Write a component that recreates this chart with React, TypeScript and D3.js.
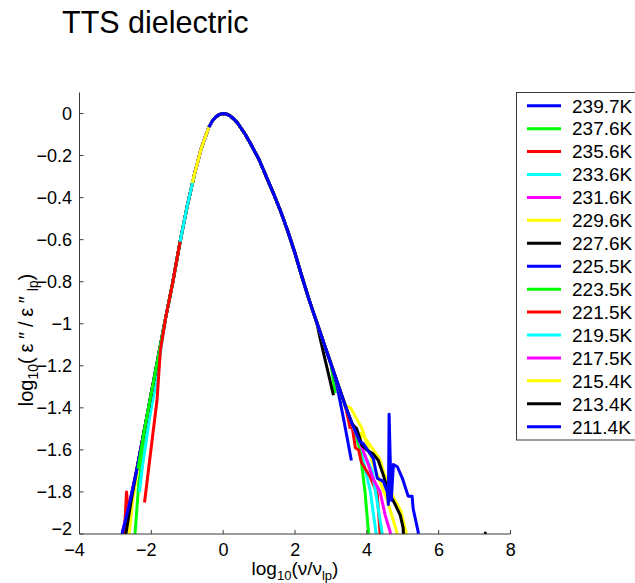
import React from "react";
import * as d3 from "d3";

// ---------------- data ----------------
const temperatures = [
  "239.7K", "237.6K", "235.6K", "233.6K", "231.6K", "229.6K", "227.6K",
  "225.5K", "223.5K", "221.5K", "219.5K", "217.5K", "215.4K", "213.4K", "211.4K",
];

const lineColors = [
  "#0000ff", "#00ff00", "#ff0000", "#00ffff", "#ff00ff", "#ffff00", "#000000",
  "#0000ff", "#00ff00", "#ff0000", "#00ffff", "#ff00ff", "#ffff00", "#000000", "#0000ff",
];

// collapsed master curve shared by all temperatures
const masterX = [
  -3.2, -3.0, -2.8, -2.6, -2.4, -2.2, -2.0, -1.8, -1.6, -1.4, -1.2, -1.0, -0.8, -0.6,
  -0.4, -0.3, -0.2, -0.1, 0, 0.1, 0.2, 0.3, 0.4, 0.6, 0.8, 1.0, 1.2, 1.4, 1.6, 1.8,
  2.0, 2.2, 2.4, 2.6, 2.8, 3.0, 3.2, 3.4, 3.6, 3.8,
];
const masterY = [
  -2.3, -2.15, -1.99, -1.85, -1.69, -1.51, -1.33, -1.15, -0.97, -0.8, -0.61, -0.44, -0.29, -0.16,
  -0.065, -0.035, -0.015, -0.004, 0, -0.003, -0.012, -0.026, -0.045, -0.095, -0.155, -0.22, -0.3, -0.38, -0.465, -0.56,
  -0.665, -0.78, -0.89, -0.99, -1.09, -1.19, -1.29, -1.39, -1.48, -1.56,
];

// portion of the master curve covered by each temperature
const masterFrom = [-3.2, -2.0, -2.6, -1.6, -2.8, -2.2, -2.4, -3.0, -2.2, -1.6, -1.2, -0.8, -0.8, -0.3, -0.4];
const masterTo = [2.4, 3.0, 3.4, 3.6, 3.4, 3.4, 2.6, 3.0, 3.6, 3.4, 3.8, 3.8, 3.8, 3.6, 3.8];

// low-frequency ends that leave the master curve
const headPoints: number[][][] = [
  [],
  [[-2.55, -2.2], [-2.45, -1.99], [-2.35, -1.76], [-2.2, -1.57]],
  [[-2.8, -2.15], [-2.69, -1.8], [-2.64, -1.9]],
  [[-2.33, -1.8], [-2.24, -1.67], [-2.05, -1.45], [-1.85, -1.26], [-1.7, -1.08]],
  [],
  [[-2.7, -2.15], [-2.62, -2.0], [-2.5, -1.82], [-2.4, -1.71]],
  [[-2.8, -2.15], [-2.7, -1.99], [-2.55, -1.83]],
  [],
  [[-2.37, -1.69]],
  [[-2.19, -1.85], [-1.84, -1.36], [-1.75, -1.13]],
  [],
  [],
  [[-0.86, -0.33]],
  [],
  [],
];

// high-frequency ends that leave the master curve
const tailPoints: number[][][] = [
  [],
  [[3.12, -1.33]],
  [[3.54, -1.5]],
  [[3.9, -1.65], [4.1, -1.8], [4.3, -2.05]],
  [],
  [[3.55, -1.4], [3.87, -1.5], [4.18, -1.67], [4.57, -1.84], [4.85, -2.0], [4.9, -2.1]],
  [[2.7, -1.07], [3.07, -1.34]],
  [[3.15, -1.28], [3.35, -1.45], [3.57, -1.65]],
  [[3.66, -1.5], [3.8, -1.59], [3.95, -1.8], [4.05, -2.0], [4.1, -2.1]],
  [[3.6, -1.5], [3.68, -1.59], [3.77, -1.6], [3.85, -1.66], [4.1, -1.73], [4.29, -1.81], [4.37, -2.0], [4.4, -2.1]],
  [[3.9, -1.61], [4.15, -1.7], [4.43, -2.0], [4.47, -2.1]],
  [[4.0, -1.65], [4.18, -1.74], [4.37, -1.8], [4.51, -1.91], [4.65, -1.99], [4.7, -2.1]],
  [[3.85, -1.52], [4.1, -1.58], [4.35, -1.64], [4.5, -1.72], [4.75, -1.83], [4.95, -1.89], [5.1, -2.0], [5.15, -2.1]],
  [[3.72, -1.5], [3.87, -1.58], [4.0, -1.6], [4.18, -1.62], [4.32, -1.65], [4.46, -1.72], [4.6, -1.8], [4.79, -1.86],
   [4.93, -1.91], [5.01, -1.97], [5.05, -2.1], [6.0, -2.5], [7.25, -2.3], [7.3, -1.995], [7.35, -2.3]],
  [[3.9, -1.57], [4.18, -1.64], [4.29, -1.735], [4.46, -1.75], [4.57, -1.8], [4.6, -1.86], [4.62, -1.43], [4.68, -1.84],
   [4.74, -1.67], [4.85, -1.68], [4.99, -1.735], [5.15, -1.82], [5.26, -1.82], [5.29, -1.88], [5.43, -1.99], [5.46, -2.1]],
];

const xTicks = [-4, -2, 0, 2, 4, 6, 8];
const yTicks = [0, -0.2, -0.4, -0.6, -0.8, -1, -1.2, -1.4, -1.6, -1.8, -2];

// ---------------- layout ----------------
const FONT = "'Liberation Sans', Arial, Helvetica, sans-serif";
const AXIS = "#3a3a3a";

const x = d3.scaleLinear().domain([-4, 8]).range([79.5, 510.5]);
const y = d3.scaleLinear().domain([-2, 0.1]).range([534, 92.5]);

const fmt = (v: number) => (v < 0 ? "\u2212" + String(Math.abs(v)) : String(v));

function seriesPoints(i: number): [number, number][] {
  const pts: [number, number][] = [];
  headPoints[i].forEach((p) => pts.push([p[0], p[1]]));
  masterX.forEach((mx, k) => {
    if (mx >= masterFrom[i] - 1e-9 && mx <= masterTo[i] + 1e-9) pts.push([mx, masterY[k]]);
  });
  tailPoints[i].forEach((p) => pts.push([p[0], p[1]]));
  return pts;
}

const line = d3
  .line<[number, number]>()
  .x((d) => x(d[0]))
  .y((d) => y(d[1]))
  .curve(d3.curveLinear);

export default function App() {
  const [x0, x1] = x.range();
  const [yb, yt] = y.range();
  const legendTop = 105.7;
  const legendStep = 22.93;
  return (
    <svg
      width={635}
      height={583}
      viewBox="0 0 635 583"
      style={{ position: "absolute", left: 0, top: 0, background: "#fff", fontFamily: FONT }}
    >
      <rect x={0} y={0} width={635} height={583} fill="#fff" />
      <defs>
        <clipPath id="plotClip">
          <rect x={x0} y={yt} width={x1 - x0} height={yb - yt} />
        </clipPath>
      </defs>

      {/* title */}
      <text x={62} y={33} fontSize={30.5} fill="#000">
        TTS dielectric
      </text>

      {/* data */}
      <g clipPath="url(#plotClip)">
        {temperatures.map((t, i) => (
          <path
            key={t}
            d={line(seriesPoints(i)) || ""}
            fill="none"
            stroke={lineColors[i]}
            strokeWidth={3}
            strokeLinejoin="round"
            strokeLinecap="butt"
          />
        ))}
      </g>

      {/* axes */}
      <line x1={x0} x2={x0} y1={yt} y2={yb} stroke={AXIS} strokeWidth={1} />
      <line x1={x0} x2={x1} y1={yb} y2={yb} stroke={AXIS} strokeWidth={1} />
      {yTicks.map((v) => (
        <g key={"y" + v}>
          <line x1={x0} x2={x0 + 4} y1={y(v)} y2={y(v)} stroke={AXIS} strokeWidth={1} />
          <text
            x={72}
            y={y(v) + (v === -2 ? -5 : 0)}
            dy="0.36em"
            textAnchor="end"
            fontSize={18}
            fill="#000"
          >
            {fmt(v)}
          </text>
        </g>
      ))}
      {xTicks.map((v) => (
        <g key={"x" + v}>
          <line x1={x(v)} x2={x(v)} y1={yb} y2={yb - 4} stroke={AXIS} strokeWidth={1} />
          <text x={x(v) + 5.3} y={556} textAnchor="end" fontSize={18} fill="#000">
            {fmt(v)}
          </text>
        </g>
      ))}

      {/* axis labels */}
      <text x={295} y={575} textAnchor="middle" fontSize={19} fill="#000">
        log
        <tspan fontSize={13} dy={5}>10</tspan>
        <tspan dy={-5}>(ν/ν</tspan>
        <tspan fontSize={13} dy={5}>lp</tspan>
        <tspan dy={-5}>)</tspan>
      </text>
      <text
        transform="translate(33,340) rotate(-90)"
        textAnchor="middle"
        fontSize={20}
        fill="#000"
      >
        log
        <tspan fontSize={14} dy={5}>10</tspan>
        <tspan dy={-5} textLength={68} lengthAdjust="spacing">(ε″/ε″</tspan>
        <tspan fontSize={14} dy={5}>lp</tspan>
        <tspan dy={-5}>)</tspan>
      </text>

      {/* legend */}
      <rect x={516.5} y={92.5} width={140} height={347.5} fill="#fff" stroke={AXIS} strokeWidth={1} />
      {temperatures.map((t, i) => {
        const ly = legendTop + i * legendStep;
        return (
          <g key={"lg" + t}>
            <line x1={527} x2={561} y1={ly} y2={ly} stroke={lineColors[i]} strokeWidth={3} />
            <text x={572} y={ly} dy="0.36em" fontSize={19} fill="#000">
              {t}
            </text>
          </g>
        );
      })}
    </svg>
  );
}
